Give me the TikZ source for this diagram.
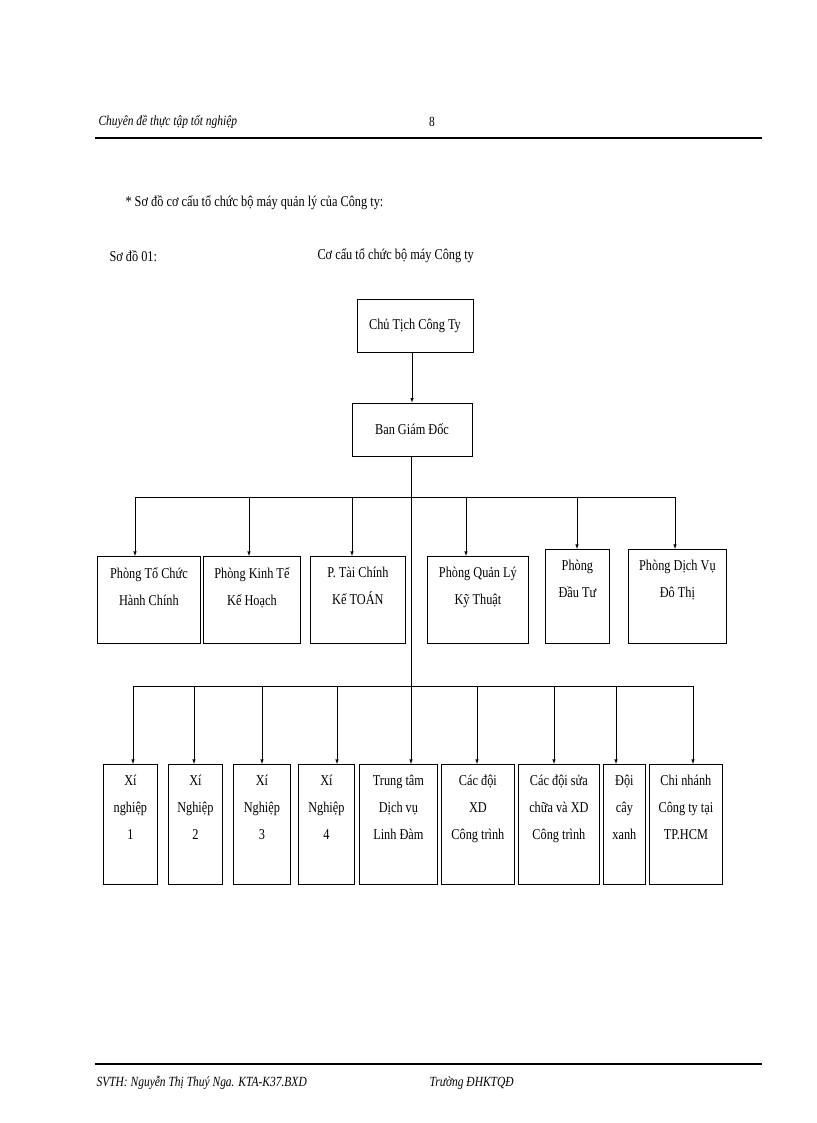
\documentclass[tikz,border=0pt]{standalone}
\usepackage{fontspec}
\setmainfont[FakeStretch=0.82]{Liberation Serif}
\begin{document}
\begin{tikzpicture}[x=1pt,y=-1pt,
 bx/.style={draw,line width=0.8pt,align=center,inner sep=0pt},
 ar/.style={-latex,line width=0.6pt},
 ln/.style={line width=0.6pt}]
\useasboundingbox (0,0) rectangle (816,1123);
\fill[white] (0,0) rectangle (816,1123);
% header/footer
\node[anchor=west,font=\itshape\fontsize{14}{16}\selectfont] (h1) at (95,122) {Chuyên đề thực tập tốt nghiệp};
\node[font=\fontsize{14}{16}\selectfont] (h2) at (432,122) {8};
\draw[line width=1.2pt] (95,138) -- (762,138);
\draw[line width=1.2pt] (95,1064) -- (762,1064);
\node[anchor=west,font=\itshape\fontsize{14}{16}\selectfont] (f1) at (93,1083) {SVTH: Nguyễn Thị Thuý Nga. KTA-K37.BXD};
\node[anchor=west,font=\itshape\fontsize{14}{16}\selectfont] (f2) at (426,1083) {Trường ĐHKTQĐ};
\node[anchor=west,font=\fontsize{15}{17}\selectfont] (t1) at (122,203) {* Sơ đồ cơ cấu tổ chức bộ máy quản lý của Công ty:};
\node[anchor=west,font=\fontsize{15}{17}\selectfont] (t2) at (106,256) {Sơ đồ 01:};
\node[anchor=west,font=\fontsize{15}{17}\selectfont] (t3) at (314,256) {Cơ cấu tổ chức bộ máy Công ty};
% top
\node[bx,minimum width=116pt,minimum height=53pt,font=\fontsize{15}{17}\selectfont] (ct) at (415,325.5) {Chủ Tịch Công Ty};
\node[bx,minimum width=120pt,minimum height=53pt,font=\fontsize{15}{17}\selectfont] (gd) at (412,429.5) {Ban Giám Đốc};
\draw[ar] (ct.south -| gd.north) -- (gd.north);
\coordinate (b1) at (411,497);
\coordinate (b2) at (411,686);
\draw[ln] (gd.south -| b1) -- (b2);
\draw[ln] (135,497) -- (675,497);
\draw[ln] (133,686) -- (693,686);
\newcommand\rA[6]{\node[bx,minimum width=#3pt,minimum height=#4pt,anchor=north west] (#1) at (#2,#5) {};
 \node[align=center,font=\fontsize{15}{27}\selectfont,anchor=north,inner sep=0pt] at ([yshift=-11pt]#1.north) {#6};}
\rA{p1}{97}{103}{87}{556}{Phòng Tổ Chức\\Hành Chính}
\rA{p2}{203}{97}{87}{556}{Phòng Kinh Tế\\Kế Hoạch}
\rA{p3}{310}{95}{87}{556}{P. Tài Chính\\Kế TOÁN}
\rA{p4}{427}{101}{87}{556}{Phòng Quản Lý\\Kỹ Thuật}
\rA{p5}{545}{64}{94}{549}{Phòng\\Đầu Tư}
\rA{p6}{628}{98}{94}{549}{Phòng Dịch Vụ\\Đô Thị}
\foreach \n/\x in {p1/135,p2/249,p3/352,p4/466,p5/577,p6/675}
  \draw[ar] (\x,497) -- (\x,0 |- \n.north);
\rA{q1}{103}{54}{120}{764}{Xí\\nghiệp\\1}
\rA{q2}{168}{54}{120}{764}{Xí\\Nghiệp\\2}
\rA{q3}{233}{57}{120}{764}{Xí\\Nghiệp\\3}
\rA{q4}{298}{56}{120}{764}{Xí\\Nghiệp\\4}
\rA{q5}{359}{78}{120}{764}{Trung tâm\\Dịch vụ\\Linh Đàm}
\rA{q6}{441}{73}{120}{764}{Các đội\\XD\\Công trình}
\rA{q7}{518}{81}{120}{764}{Các đội sửa\\chữa và XD\\Công trình}
\rA{q8}{603}{42}{120}{764}{Đội\\cây\\xanh}
\rA{q9}{649}{73}{120}{764}{Chi nhánh\\Công ty tại\\TP.HCM}
\foreach \n/\x in {q1/133,q2/194,q3/262,q4/337,q5/411,q6/477,q7/554,q8/616,q9/693}
  \draw[ar] (\x,686) -- (\x,0 |- \n.north);
\end{tikzpicture}
\end{document}
